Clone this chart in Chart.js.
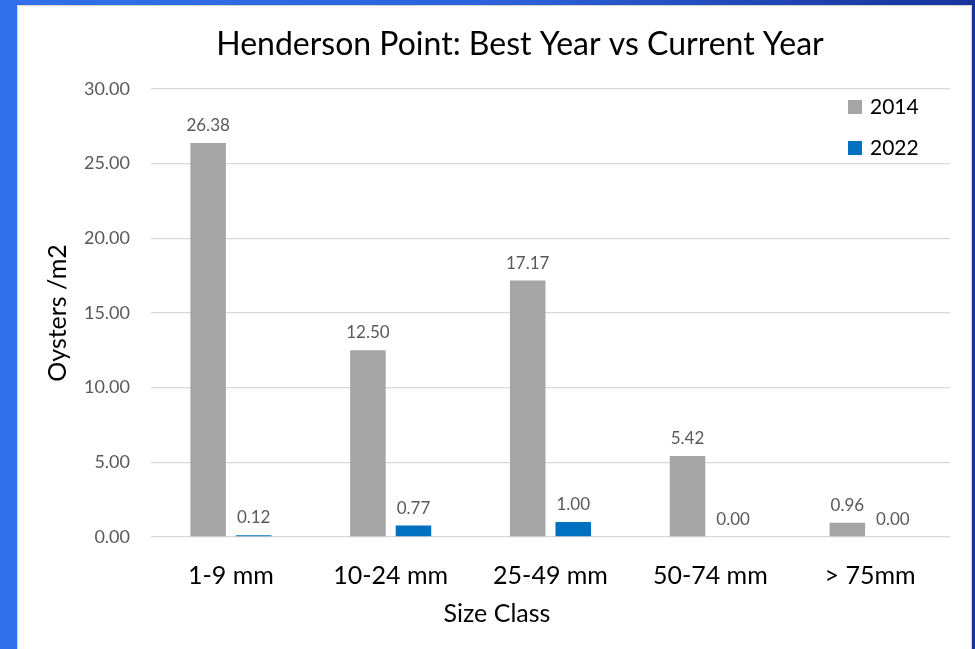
<!DOCTYPE html>
<html lang="en">
<head>
<meta charset="UTF-8">
<title>Henderson Point: Best Year vs Current Year</title>
<script src="https://cdn.jsdelivr.net/npm/chart.js"></script>
<style>
    html, body {
        margin: 0;
        padding: 0;
        width: 975px;
        height: 649px;
        overflow: hidden;
        background: linear-gradient(90deg, #3170ea 0%, #2c63dc 50%, #1c3ba6 90%, #18349c 100%);
    }
    #panel {
        position: absolute;
        left: 18px;
        top: 6px;
        width: 953px;
        height: 643px;
        background: #ffffff;
        box-shadow: 0 0 0 1px #d4d4d4;
    }
    canvas#myChart {
        display: block;
    }
</style>
</head>
<body>
<div id="panel">
    <canvas id="myChart" width="953" height="643"></canvas>
</div>

<script>
    const chartTitle = 'Henderson Point: Best Year vs Current Year';
    const xTitle = 'Size Class';
    const yTitle = 'Oysters /m2';
    const sizeClasses = ['1-9 mm', '10-24 mm', '25-49 mm', '50-74 mm', '> 75mm'];
    const seriesNames = ['2014', '2022'];
    const values2014 = [26.38, 12.50, 17.17, 5.42, 0.96];
    const values2022 = [0.12, 0.77, 1.00, 0.00, 0.00];
    const yTicks = [0, 5, 10, 15, 20, 25, 30];

    const FONT = 'Lato';

    // value labels above each bar (no datalabels plugin offline)
    const barLabels = {
        id: 'barLabels',
        afterDatasetsDraw(chart) {
            const ctx = chart.ctx;
            ctx.save();
            ctx.font = '17px ' + FONT;
            ctx.fillStyle = '#595959';
            ctx.textAlign = 'center';
            ctx.textBaseline = 'alphabetic';
            chart.data.datasets.forEach((ds, i) => {
                chart.getDatasetMeta(i).data.forEach((bar, j) => {
                    ctx.fillText(ds.data[j].toFixed(2), bar.x, bar.y - 12);
                });
            });
            ctx.restore();
        }
    };

    // title, x-axis title and legend drawn by hand to sit where the original has them
    const decorations = {
        id: 'decorations',
        afterDraw(chart) {
            const ctx = chart.ctx;
            const area = chart.chartArea;
            ctx.save();
            ctx.fillStyle = '#000000';
            ctx.textAlign = 'center';
            ctx.textBaseline = 'alphabetic';
            ctx.font = '32px ' + FONT;
            ctx.fillText(chartTitle, 502, 49);
            ctx.font = '25px ' + FONT;
            ctx.fillText(xTitle, 479, 616);

            ctx.font = '21px ' + FONT;
            ctx.textAlign = 'left';
            ctx.textBaseline = 'middle';
            chart.data.datasets.forEach((ds, i) => {
                const y = area.top + 18 + i * 41;
                ctx.fillStyle = ds.backgroundColor;
                ctx.fillRect(area.right - 102, y - 7, 14, 14);
                ctx.fillStyle = '#000000';
                ctx.fillText(ds.label, area.right - 80, y);
            });
            ctx.restore();
        }
    };

    let ctx = document.getElementById('myChart').getContext('2d');
    let myChart = new Chart(ctx, {
        type: 'bar',
        data: {
            labels: sizeClasses,
            datasets: [{
                label: seriesNames[0],
                data: values2014,
                backgroundColor: '#a5a5a5',
                categoryPercentage: 0.57,
                barPercentage: 0.78
            }, {
                label: seriesNames[1],
                data: values2022,
                backgroundColor: '#0070c0',
                categoryPercentage: 0.57,
                barPercentage: 0.78
            }]
        },
        options: {
            responsive: false,
            animation: false,
            layout: {
                padding: { top: 83, right: 21, left: 0, bottom: 0 }
            },
            plugins: {
                legend: { display: false },
                title: { display: false },
                tooltip: { enabled: false }
            },
            scales: {
                x: {
                    afterFit: s => { s.height = 112; },
                    grid: { display: false, drawTicks: false },
                    border: { display: false },
                    ticks: {
                        color: '#000000',
                        font: { family: FONT, size: 25 },
                        padding: 24
                    }
                },
                y: {
                    min: 0,
                    max: 30,
                    afterFit: s => { s.width = 133; },
                    afterBuildTicks: s => { s.ticks = yTicks.map(v => ({ value: v })); },
                    grid: { color: '#d9d9d9', lineWidth: 1.3, drawTicks: false },
                    border: { display: false },
                    ticks: {
                        color: '#595959',
                        font: { family: FONT, size: 18 },
                        padding: 21,
                        callback: v => Number(v).toFixed(2)
                    },
                    title: {
                        display: true,
                        text: yTitle,
                        color: '#000000',
                        font: { family: FONT, size: 25 },
                        padding: { top: 25, bottom: 0 }
                    }
                }
            }
        },
        plugins: [barLabels, decorations]
    });
</script>
</body>
</html>
